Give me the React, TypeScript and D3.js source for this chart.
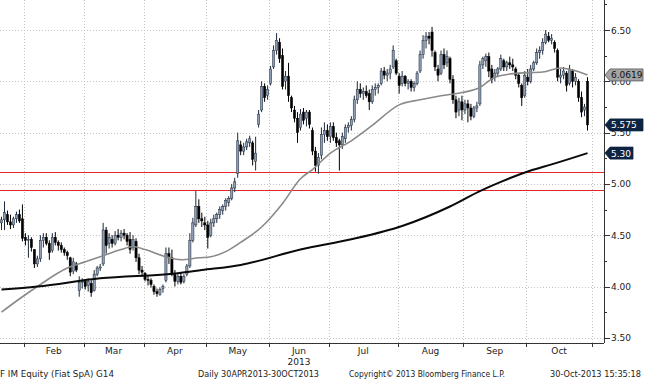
import React from 'react';
import * as d3 from 'd3';

// ---------- data ----------
const opens = [4.62,4.65,4.70,4.63,4.60,4.66,4.70,4.66,4.48,4.45,4.46,4.36,4.22,4.27,4.45,4.48,4.42,4.35,4.48,4.43,4.40,4.36,4.33,4.28,4.15,4.22,3.96,4.04,4.05,4.01,4.03,3.96,4.12,4.18,4.22,4.55,4.42,4.46,4.42,4.50,4.48,4.52,4.50,4.46,4.38,4.44,4.28,4.16,4.13,4.07,4.06,4.00,3.95,3.92,3.98,4.06,4.32,4.28,4.12,4.05,4.10,4.05,4.12,4.20,4.45,4.60,4.78,4.66,4.62,4.60,4.50,4.62,4.66,4.70,4.74,4.78,4.82,4.86,4.96,5.10,5.38,5.32,5.36,5.40,5.40,5.22,5.58,5.72,5.95,5.86,5.98,6.14,6.30,6.38,6.25,6.00,6.05,5.84,5.72,5.64,5.55,5.70,5.64,5.70,5.52,5.32,5.18,5.28,5.48,5.52,5.46,5.56,5.45,5.42,5.38,5.44,5.55,5.57,5.63,5.82,5.92,5.88,5.90,5.88,5.80,5.92,5.94,5.98,6.10,6.06,6.08,6.14,6.20,6.05,5.98,6.05,5.98,6.00,5.94,5.98,6.10,6.26,6.40,6.44,6.48,6.28,6.12,6.08,6.26,6.18,6.22,6.02,5.82,5.72,5.80,5.72,5.78,5.74,5.66,5.74,5.78,6.16,6.20,6.24,6.12,6.04,6.08,6.12,6.20,6.14,6.18,6.16,6.12,6.06,5.96,5.86,6.04,6.00,6.12,6.18,6.28,6.30,6.38,6.44,6.40,6.38,6.30,6.04,6.06,6.08,5.98,6.10,6.00,6.00,5.84,5.72,6.00];
const highs = [4.68,4.83,4.74,4.70,4.68,4.73,4.75,4.80,4.52,4.50,4.48,4.36,4.30,4.50,4.52,4.52,4.45,4.52,4.53,4.45,4.43,4.38,4.35,4.29,4.28,4.24,4.10,4.08,4.07,4.08,4.06,4.16,4.20,4.22,4.62,4.58,4.52,4.50,4.54,4.56,4.55,4.56,4.52,4.53,4.50,4.47,4.32,4.20,4.14,4.10,4.08,4.02,3.98,3.99,4.02,4.38,4.38,4.36,4.16,4.12,4.14,4.12,4.22,4.52,4.67,4.93,4.85,4.72,4.68,4.64,4.66,4.70,4.72,4.78,4.80,4.86,4.88,5.00,5.06,5.50,5.42,5.40,5.44,5.47,5.42,5.46,5.72,6.00,5.98,5.96,6.15,6.35,6.47,6.42,6.32,6.10,6.18,5.86,5.76,5.70,5.73,5.74,5.72,5.72,5.55,5.36,5.30,5.55,5.60,5.58,5.60,5.60,5.50,5.44,5.50,5.58,5.60,5.66,5.86,6.00,5.98,5.94,5.96,5.92,5.96,5.98,5.98,6.13,6.14,6.12,6.16,6.35,6.22,6.08,6.10,6.06,6.02,6.02,6.00,6.10,6.30,6.45,6.48,6.48,6.53,6.30,6.16,6.30,6.32,6.30,6.24,6.06,5.86,5.84,5.86,5.82,5.82,5.78,5.76,5.80,6.20,6.24,6.27,6.28,6.16,6.12,6.14,6.26,6.22,6.20,6.24,6.22,6.14,6.08,5.98,6.10,6.12,6.16,6.20,6.32,6.34,6.42,6.50,6.48,6.46,6.40,6.32,6.12,6.14,6.10,6.16,6.12,6.08,6.02,5.90,5.78,6.04];
const lows = [4.55,4.55,4.60,4.56,4.57,4.62,4.62,4.44,4.40,4.28,4.34,4.18,4.19,4.24,4.38,4.40,4.26,4.33,4.40,4.35,4.33,4.30,4.26,4.10,4.12,4.14,3.90,3.98,3.97,3.95,3.90,3.95,4.10,4.15,4.20,4.32,4.37,4.38,4.40,4.45,4.44,4.46,4.40,4.32,4.35,4.24,4.12,4.10,4.05,4.01,3.99,3.92,3.90,3.91,3.94,4.04,4.22,4.10,4.00,4.02,4.02,4.03,4.10,4.18,4.43,4.58,4.62,4.58,4.55,4.37,4.48,4.58,4.62,4.66,4.70,4.74,4.78,4.84,4.92,5.06,5.28,5.28,5.33,5.36,5.18,5.13,5.55,5.70,5.80,5.82,5.96,6.12,6.26,6.18,5.92,5.92,5.80,5.70,5.60,5.40,5.52,5.58,5.56,5.54,5.28,5.12,5.10,5.24,5.40,5.42,5.40,5.42,5.36,5.13,5.34,5.40,5.50,5.52,5.60,5.78,5.84,5.82,5.84,5.72,5.78,5.86,5.88,5.96,6.02,6.00,6.02,6.12,6.06,5.88,5.95,5.95,5.92,5.90,5.90,5.96,6.08,6.22,6.32,6.36,6.24,6.10,6.00,6.06,6.12,6.14,5.98,5.78,5.64,5.66,5.62,5.68,5.60,5.62,5.64,5.70,5.76,6.12,6.14,6.04,5.98,6.00,6.04,6.10,6.10,6.10,6.12,6.10,6.02,5.94,5.76,5.84,5.96,5.98,6.10,6.16,6.22,6.26,6.36,6.38,6.36,6.28,6.00,5.98,6.02,5.90,5.96,5.94,5.96,5.80,5.65,5.66,5.52];
const closes = [4.65,4.72,4.63,4.60,4.66,4.70,4.64,4.47,4.45,4.46,4.38,4.22,4.27,4.45,4.48,4.42,4.33,4.48,4.43,4.40,4.36,4.33,4.30,4.14,4.24,4.16,4.04,4.05,4.00,4.05,3.94,4.12,4.18,4.19,4.55,4.40,4.48,4.42,4.50,4.48,4.52,4.50,4.44,4.36,4.46,4.28,4.16,4.14,4.07,4.06,4.02,3.95,3.93,3.97,4.00,4.32,4.28,4.12,4.05,4.10,4.04,4.10,4.20,4.45,4.62,4.78,4.66,4.64,4.60,4.48,4.62,4.66,4.70,4.75,4.78,4.84,4.86,4.96,5.02,5.42,5.32,5.36,5.41,5.44,5.24,5.30,5.68,5.95,5.84,5.92,6.12,6.30,6.40,6.22,5.95,6.05,5.86,5.74,5.64,5.50,5.68,5.62,5.70,5.58,5.32,5.18,5.26,5.48,5.52,5.46,5.56,5.45,5.40,5.38,5.46,5.55,5.57,5.63,5.82,5.92,5.88,5.90,5.86,5.80,5.92,5.94,5.96,6.10,6.06,6.08,6.12,6.30,6.08,5.96,6.05,5.98,6.00,5.94,5.98,6.08,6.26,6.40,6.44,6.42,6.30,6.14,6.06,6.26,6.16,6.24,6.02,5.82,5.70,5.80,5.72,5.78,5.74,5.66,5.74,5.76,6.16,6.22,6.24,6.10,6.02,6.08,6.12,6.22,6.14,6.18,6.16,6.14,6.06,5.98,5.84,6.06,6.00,6.12,6.18,6.28,6.30,6.38,6.46,6.40,6.42,6.32,6.04,6.06,6.10,5.96,6.12,6.00,6.04,5.84,5.70,5.75,5.575];

// 50-day moving average (grey) sampled at trading-day indices
const ma50Idx = [0,7,12,22,28,33,40,44,48,55,60,66,70,75,80,87,94,100,104,110,117,124,133,140,147,154,160,165,173,181,187,191,196];
const ma50Val = [3.75,3.90,4.00,4.18,4.24,4.29,4.36,4.39,4.36,4.29,4.26,4.28,4.29,4.34,4.43,4.58,4.81,5.05,5.14,5.30,5.42,5.57,5.77,5.82,5.86,5.89,5.94,6.04,6.08,6.09,6.13,6.11,6.0619];
// 200-day moving average (black)
const ma200Idx = [0,12,33,59,67,80,100,117,134,150,160,167,177,184,196];
const ma200Val = [3.97,4.00,4.08,4.13,4.16,4.21,4.36,4.46,4.59,4.78,4.93,5.02,5.13,5.19,5.30];

// horizontal red levels
const levels = [5.12, 4.945];

// x-axis: month boundaries (trading-day index)
const monthStarts = [8,28,48,69,90,110,133,155,176,198];
const monthNames = ['Feb','Mar','Apr','May','Jun','Jul','Aug','Sep','Oct'];
const yearLabel = { month: 'Jun', text: '2013' };

// y-axis ticks
const majorTicks = [3.5,4.0,4.5,5.0,5.5,6.0,6.5];
const minorTicks = [3.75,4.25,4.75,5.25,5.75,6.25,6.75];

// value callouts on the right axis
const callouts = [
  { value: 6.0619, text: '6.0619', fill: '#a3a3a3', color: '#111', stroke: '#555', w: 38 },
  { value: 5.575, text: '5.575', fill: '#0e2341', color: '#fff', stroke: '#0e2341', w: 38 },
  { value: 5.30, text: '5.30', fill: '#0e2341', color: '#fff', stroke: '#0e2341', w: 28 },
];

const footer = [
  { text: 'F IM Equity (Fiat SpA) G14', x: 0, w: 114 },
  { text: 'Daily 30APR2013-30OCT2013', x: 198, w: 121 },
  { text: 'Copyright\u00A9 2013 Bloomberg Finance L.P.', x: 349, w: 156 },
  { text: '30-Oct-2013 15:35:18', x: 550, w: 91 },
];

// ---------- layout ----------
const W = 645, H = 380;
const AX = 604;      // right axis x
const AY = 343;      // bottom axis y
const FONT = 'DejaVu Sans, Verdana, sans-serif';

export default function App() {
  const x = d3.scaleLinear().domain([0, 198]).range([0, 592]);
  const y = d3.scaleLinear().domain([3.5, 6.5]).range([337.8, 30]);

  const line50 = d3.line<number>()
    .x((_, i) => x(ma50Idx[i] + 0.5))
    .y((d) => y(d))
    .curve(d3.curveMonotoneX)(ma50Val) || '';
  const line200 = d3.line<number>()
    .x((_, i) => x(ma200Idx[i] + 0.5))
    .y((d) => y(d))
    .curve(d3.curveMonotoneX)(ma200Val) || '';

  const bw = 2.2;

  return (
    <svg width={W} height={H} style={{ position: 'absolute', left: 0, top: 0, background: '#fff' }}
      fontFamily={FONT}>
      <rect x={0} y={0} width={W} height={H} fill="#fff" />
      <defs>
        <clipPath id="plot"><rect x={0} y={0} width={AX} height={AY} /></clipPath>
      </defs>
      {/* grid */}
      <g stroke="#c4c4c4" strokeWidth={1} strokeDasharray="1,2">
        {majorTicks.map((t) => (
          <line key={'h' + t} x1={0} x2={AX} y1={Math.round(y(t)) + 0.5} y2={Math.round(y(t)) + 0.5} />
        ))}
        {monthStarts.map((m) => (
          <line key={'v' + m} x1={Math.round(x(m)) + 0.5} x2={Math.round(x(m)) + 0.5} y1={0} y2={AY} />
        ))}
      </g>
      <g clipPath="url(#plot)">
        {levels.map((l) => (
          <line key={'l' + l} x1={0} x2={AX} y1={Math.round(y(l)) + 0.5} y2={Math.round(y(l)) + 0.5} stroke="#e3262c" strokeWidth={1} />
        ))}
        {closes.map((c, i) => {
          const o = opens[i], h = highs[i], l = lows[i];
          const cx = x(i + 0.5);
          const up = c >= o;
          const top = y(Math.max(o, c));
          const bh = Math.max(1, Math.abs(y(o) - y(c)));
          return (
            <g key={i}>
              <line x1={cx} x2={cx} y1={y(h)} y2={y(l)} stroke={up ? '#1d2a3b' : '#000'} strokeWidth={1} />
              <rect x={cx - bw / 2} y={top} width={bw} height={bh}
                fill={up ? '#8d9db3' : '#000'} stroke={up ? '#1d2a3b' : '#000'} strokeWidth={0.5} />
            </g>
          );
        })}
        <path d={line50} fill="none" stroke="#8a8a8a" strokeWidth={1.6} />
        <path d={line200} fill="none" stroke="#0a0a0a" strokeWidth={2} />
      </g>
      {/* axes */}
      <line x1={AX + 0.5} x2={AX + 0.5} y1={0} y2={AY} stroke="#333" strokeWidth={1} />
      <line x1={0} x2={AX} y1={AY + 0.5} y2={AY + 0.5} stroke="#333" strokeWidth={1} />
      {monthStarts.map((m) => (
        <line key={'mt' + m} x1={Math.round(x(m)) + 0.5} x2={Math.round(x(m)) + 0.5} y1={AY} y2={AY + 4} stroke="#333" />
      ))}
      {monthNames.map((n, k) => {
        const cx = (x(monthStarts[k]) + x(monthStarts[k + 1])) / 2;
        return (
          <g key={n}>
            <text x={cx} y={354} textAnchor="middle" fontSize={9} fill="#222">{n}</text>
            {n === yearLabel.month && (
              <text x={cx} y={365} textAnchor="middle" fontSize={9} fill="#222">{yearLabel.text}</text>
            )}
          </g>
        );
      })}
      {minorTicks.map((t) => (
        <line key={'mn' + t} x1={AX} x2={AX + 3} y1={Math.round(y(t)) + 0.5} y2={Math.round(y(t)) + 0.5} stroke="#333" />
      ))}
      {majorTicks.map((t) => (
        <g key={'mj' + t}>
          <line x1={AX} x2={AX + 6} y1={Math.round(y(t)) + 0.5} y2={Math.round(y(t)) + 0.5} stroke="#333" />
          <text x={AX + 7} y={y(t) + 3.5} fontSize={9} fill="#222">{t.toFixed(2)}</text>
        </g>
      ))}
      {callouts.map((c) => {
        const cy = y(c.value);
        const x0 = AX + 1, x1 = AX + 6, x2 = AX + 1 + c.w;
        const pts = `${x0},${cy} ${x1},${cy - 6} ${x2},${cy - 6} ${x2},${cy + 6} ${x1},${cy + 6}`;
        return (
          <g key={c.text}>
            <polygon points={pts} fill={c.fill} stroke={c.stroke} strokeWidth={0.8} />
            <text x={AX + 7} y={cy + 3.5} fontSize={9} fill={c.color}>{c.text}</text>
          </g>
        );
      })}
      {footer.map((f) => (
        <text key={f.text} x={f.x} y={377} fontSize={9} fill="#222" textLength={f.w} lengthAdjust="spacingAndGlyphs">{f.text}</text>
      ))}
    </svg>
  );
}
